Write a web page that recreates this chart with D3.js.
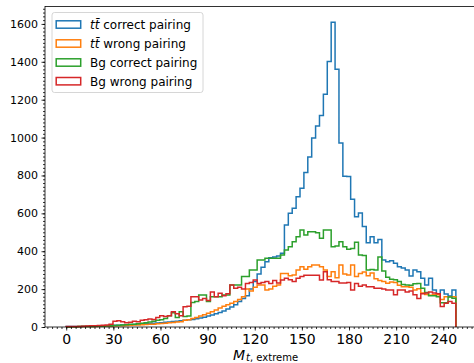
<!DOCTYPE html>
<html>
<head>
<meta charset="utf-8">
<script src="https://cdn.jsdelivr.net/npm/d3@7"></script>
<style>
  html, body { margin: 0; padding: 0; background: #fff; }
  svg { display: block; font-family: "DejaVu Sans", sans-serif; }
</style>
</head>
<body>
<svg id="chart" width="474" height="363"></svg>
<script>
// Histogram binning: 100 equal bins starting at 0
const binStart = 0;
const binWidth = 2.48;

const seriesNames = ["tt correct pairing", "tt wrong pairing", "Bg correct pairing", "Bg wrong pairing"];
const seriesColors = ["#1f77b4", "#ff7f0e", "#2ca02c", "#d62728"];

// Counts per bin
const ttCorrect = [
  2, 2, 3, 3, 4, 4, 5, 5, 6, 6,
  7, 8, 9, 9, 10, 11, 12, 13, 14, 16,
  17, 18, 20, 21, 23, 25, 27, 29, 31, 33,
  35, 38, 40, 44, 48, 52, 58, 64, 70, 76,
  85, 95, 105, 118, 135, 150, 165, 200, 240, 280,
  315, 345, 365, 370, 375, 390, 539, 600, 627, 688,
  732, 815, 898, 998, 1061, 1117, 1229, 1401, 1609, 1361,
  972, 796, 794, 674, 582, 602, 530, 445, 477, 445,
  462, 354, 345, 350, 336, 318, 312, 301, 269, 301,
  292, 257, 222, 257, 195, 174, 195, 174, 164, 195
];
const ttWrong = [
  0, 1, 1, 2, 2, 3, 3, 3, 4, 4,
  5, 5, 6, 7, 7, 8, 9, 10, 11, 12,
  13, 14, 15, 17, 18, 20, 22, 24, 26, 28,
  35, 38, 45, 50, 58, 65, 72, 80, 90, 100,
  110, 118, 125, 135, 145, 160, 200, 190, 210, 222,
  222, 195, 200, 215, 222, 282, 282, 270, 275, 301,
  318, 305, 318, 327, 327, 318, 301, 266, 292, 260,
  327, 280, 275, 327, 266, 282, 290, 270, 285, 255,
  245, 240, 231, 238, 235, 220, 213, 213, 210, 195,
  202, 180, 172, 168, 170, 170, 145, 160, 160, 160
];
const bgCorrect = [
  0, 1, 1, 2, 2, 3, 3, 4, 5, 5,
  6, 7, 8, 9, 10, 12, 14, 15, 17, 20,
  22, 26, 30, 35, 38, 45, 60, 75, 50, 81,
  55, 58, 130, 134, 169, 169, 134, 160, 160, 160,
  169, 169, 222, 222, 222, 266, 266, 301, 301, 354,
  354, 363, 363, 363, 363, 380, 407, 424, 450, 477,
  512, 486, 503, 503, 497, 468, 512, 512, 424, 428,
  450, 424, 410, 415, 447, 380, 378, 301, 303, 301,
  370, 295, 262, 252, 250, 240, 225, 222, 220, 228,
  230, 205, 182, 165, 165, 160, 128, 128, 158, 152
];
const bgWrong = [
  2, 2, 3, 3, 4, 5, 6, 7, 8, 9,
  10, 14, 30, 33, 28, 22, 25, 30, 28, 35,
  38, 42, 40, 50, 60, 55, 60, 80, 70, 60,
  107, 110, 160, 160, 143, 150, 140, 185, 160, 178,
  165, 175, 222, 205, 210, 200, 230, 235, 248, 230,
  235, 240, 230, 245, 232, 248, 257, 250, 240, 257,
  266, 273, 273, 273, 273, 248, 292, 250, 240, 240,
  232, 232, 235, 195, 230, 215, 222, 213, 213, 205,
  205, 200, 195, 195, 170, 195, 195, 185, 190, 170,
  150, 175, 180, 185, 180, 175, 108, 125, 134, 125
];
const seriesValues = [ttCorrect, ttWrong, bgCorrect, bgWrong];

const xTicks = [0, 30, 60, 90, 120, 150, 180, 210, 240];
const yTicks = [0, 200, 400, 600, 800, 1000, 1200, 1400, 1600];

const svg = d3.select("#chart");

const x = d3.scaleLinear().domain([-13.5, 260.5]).range([45, 475.5]);
const y = d3.scaleLinear().domain([0, 1692]).range([327, 6.5]);

// Step outline for one histogram series
function stepPoints(vals) {
  const pts = [[binStart, 0]];
  vals.forEach((v, i) => {
    const a = binStart + i * binWidth;
    const b = a + binWidth;
    pts.push([a, v], [b, v]);
  });
  pts.push([binStart + vals.length * binWidth, 0]);
  return pts;
}

const line = d3.line().x(d => x(d[0])).y(d => y(d[1]));

const plot = svg.append("g");
seriesValues.forEach((vals, i) => {
  plot.append("path")
    .attr("d", line(stepPoints(vals)))
    .attr("fill", "none")
    .attr("stroke", seriesColors[i])
    .attr("stroke-width", 1.5)
    .attr("stroke-linejoin", "miter");
});

// Axes
const xMinor = d3.range(-12, 261, 3);
const yMinor = d3.range(0, 1692, 20);

const xAxisG = svg.append("g").attr("transform", `translate(0,${y(0)})`);
xAxisG.call(d3.axisBottom(x).tickValues(xMinor).tickSize(2).tickFormat(""));
xAxisG.call(g => g.select(".domain").remove());
const xMajor = svg.append("g").attr("transform", `translate(0,${y(0)})`)
  .call(d3.axisBottom(x).tickValues(xTicks).tickSize(3.5).tickPadding(4).tickFormat(d3.format("d")));
xMajor.select(".domain").remove();
xMajor.selectAll("text").attr("font-size", 14).attr("fill", "#000").attr("font-family", "DejaVu Sans");

const yAxisG = svg.append("g").attr("transform", `translate(${x.range()[0]},0)`);
yAxisG.call(d3.axisLeft(y).tickValues(yMinor).tickSize(2).tickFormat(""));
yAxisG.select(".domain").remove();
const yMajor = svg.append("g").attr("transform", `translate(${x.range()[0]},0)`)
  .call(d3.axisLeft(y).tickValues(yTicks).tickSize(3.5).tickPadding(3.5).tickFormat(d3.format("d")));
yMajor.select(".domain").remove();
yMajor.selectAll("text").attr("font-size", 11).attr("fill", "#000").attr("font-family", "DejaVu Sans");

svg.selectAll(".tick line").attr("stroke", "#000").attr("stroke-width", 0.8);

// Frame
svg.append("rect")
  .attr("x", x.range()[0]).attr("y", y.range()[1])
  .attr("width", x.range()[1] - x.range()[0])
  .attr("height", y.range()[0] - y.range()[1])
  .attr("fill", "none").attr("stroke", "#000").attr("stroke-width", 0.8);

// X label
const xl = svg.append("text").attr("x", 233).attr("y", 359.5)
  .attr("font-family", "DejaVu Sans").attr("fill", "#000");
xl.append("tspan").attr("font-size", 14).attr("font-style", "italic").text("M");
xl.append("tspan").attr("font-size", 10).attr("dy", 1.8).attr("dx", 1).attr("font-style", "italic").text("t");
xl.append("tspan").attr("font-size", 10).text(", extreme");

// Legend
const lg = svg.append("g");
lg.append("rect").attr("x", 52).attr("y", 12.5).attr("width", 151).attr("height", 80)
  .attr("rx", 2.5).attr("fill", "#fff").attr("fill-opacity", 0.8)
  .attr("stroke", "#cccccc").attr("stroke-width", 0.8);
const rowY = [24.5, 43.5, 62.5, 81.2];
seriesNames.forEach((name, i) => {
  lg.append("rect").attr("x", 56.2).attr("y", rowY[i] - 3.7).attr("width", 24.5).attr("height", 7.4)
    .attr("fill", "none").attr("stroke", seriesColors[i]).attr("stroke-width", 1.5);
  const t = lg.append("text").attr("x", 90).attr("y", rowY[i] + 4.3)
    .attr("font-size", 12).attr("font-family", "DejaVu Sans").attr("fill", "#000");
  if (name.startsWith("tt")) {
    t.append("tspan").attr("font-style", "italic").text("tt\u0304");
    t.append("tspan").text(name.slice(2));
  } else {
    t.text(name);
  }
});
</script>
</body>
</html>
